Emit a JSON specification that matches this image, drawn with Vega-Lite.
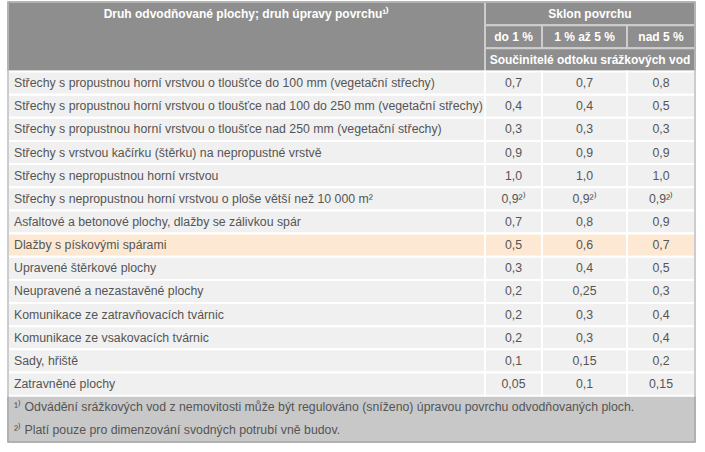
{
  "$schema": "https://vega.github.io/schema/vega-lite/v6.json",
  "width": 687,
  "height": 440,
  "autosize": {"type": "none"},
  "padding": {"left": 8, "top": 2, "right": 10, "bottom": 10},
  "background": "#ffffff",
  "config": {"view": {"stroke": null}, "text": {"font": "Liberation Sans", "fontSize": 12}},
  "resolve": {"scale": {"x": "independent", "y": "independent"}},
  "datasets": {
    "cells": [
      {"r0": 0, "r1": 3, "c0": 0, "c1": 1, "kind": "head"},
      {"r0": 0, "r1": 1, "c0": 1, "c1": 4, "kind": "head"},
      {"r0": 1, "r1": 2, "c0": 1, "c1": 2, "kind": "head"},
      {"r0": 1, "r1": 2, "c0": 2, "c1": 3, "kind": "head"},
      {"r0": 1, "r1": 2, "c0": 3, "c1": 4, "kind": "head"},
      {"r0": 2, "r1": 3, "c0": 1, "c1": 4, "kind": "head"},
      {"r0": 17, "r1": 19, "c0": 0, "c1": 4, "kind": "foot"},
      {"r0": 3, "r1": 4, "c0": 0, "c1": 1, "kind": "body"}, {"r0": 3, "r1": 4, "c0": 1, "c1": 2, "kind": "body"}, {"r0": 3, "r1": 4, "c0": 2, "c1": 3, "kind": "body"}, {"r0": 3, "r1": 4, "c0": 3, "c1": 4, "kind": "body"},
      {"r0": 4, "r1": 5, "c0": 0, "c1": 1, "kind": "body"}, {"r0": 4, "r1": 5, "c0": 1, "c1": 2, "kind": "body"}, {"r0": 4, "r1": 5, "c0": 2, "c1": 3, "kind": "body"}, {"r0": 4, "r1": 5, "c0": 3, "c1": 4, "kind": "body"},
      {"r0": 5, "r1": 6, "c0": 0, "c1": 1, "kind": "body"}, {"r0": 5, "r1": 6, "c0": 1, "c1": 2, "kind": "body"}, {"r0": 5, "r1": 6, "c0": 2, "c1": 3, "kind": "body"}, {"r0": 5, "r1": 6, "c0": 3, "c1": 4, "kind": "body"},
      {"r0": 6, "r1": 7, "c0": 0, "c1": 1, "kind": "body"}, {"r0": 6, "r1": 7, "c0": 1, "c1": 2, "kind": "body"}, {"r0": 6, "r1": 7, "c0": 2, "c1": 3, "kind": "body"}, {"r0": 6, "r1": 7, "c0": 3, "c1": 4, "kind": "body"},
      {"r0": 7, "r1": 8, "c0": 0, "c1": 1, "kind": "body"}, {"r0": 7, "r1": 8, "c0": 1, "c1": 2, "kind": "body"}, {"r0": 7, "r1": 8, "c0": 2, "c1": 3, "kind": "body"}, {"r0": 7, "r1": 8, "c0": 3, "c1": 4, "kind": "body"},
      {"r0": 8, "r1": 9, "c0": 0, "c1": 1, "kind": "body"}, {"r0": 8, "r1": 9, "c0": 1, "c1": 2, "kind": "body"}, {"r0": 8, "r1": 9, "c0": 2, "c1": 3, "kind": "body"}, {"r0": 8, "r1": 9, "c0": 3, "c1": 4, "kind": "body"},
      {"r0": 9, "r1": 10, "c0": 0, "c1": 1, "kind": "body"}, {"r0": 9, "r1": 10, "c0": 1, "c1": 2, "kind": "body"}, {"r0": 9, "r1": 10, "c0": 2, "c1": 3, "kind": "body"}, {"r0": 9, "r1": 10, "c0": 3, "c1": 4, "kind": "body"},
      {"r0": 10, "r1": 11, "c0": 0, "c1": 1, "kind": "hl"}, {"r0": 10, "r1": 11, "c0": 1, "c1": 2, "kind": "hl"}, {"r0": 10, "r1": 11, "c0": 2, "c1": 3, "kind": "hl"}, {"r0": 10, "r1": 11, "c0": 3, "c1": 4, "kind": "hl"},
      {"r0": 11, "r1": 12, "c0": 0, "c1": 1, "kind": "body"}, {"r0": 11, "r1": 12, "c0": 1, "c1": 2, "kind": "body"}, {"r0": 11, "r1": 12, "c0": 2, "c1": 3, "kind": "body"}, {"r0": 11, "r1": 12, "c0": 3, "c1": 4, "kind": "body"},
      {"r0": 12, "r1": 13, "c0": 0, "c1": 1, "kind": "body"}, {"r0": 12, "r1": 13, "c0": 1, "c1": 2, "kind": "body"}, {"r0": 12, "r1": 13, "c0": 2, "c1": 3, "kind": "body"}, {"r0": 12, "r1": 13, "c0": 3, "c1": 4, "kind": "body"},
      {"r0": 13, "r1": 14, "c0": 0, "c1": 1, "kind": "body"}, {"r0": 13, "r1": 14, "c0": 1, "c1": 2, "kind": "body"}, {"r0": 13, "r1": 14, "c0": 2, "c1": 3, "kind": "body"}, {"r0": 13, "r1": 14, "c0": 3, "c1": 4, "kind": "body"},
      {"r0": 14, "r1": 15, "c0": 0, "c1": 1, "kind": "body"}, {"r0": 14, "r1": 15, "c0": 1, "c1": 2, "kind": "body"}, {"r0": 14, "r1": 15, "c0": 2, "c1": 3, "kind": "body"}, {"r0": 14, "r1": 15, "c0": 3, "c1": 4, "kind": "body"},
      {"r0": 15, "r1": 16, "c0": 0, "c1": 1, "kind": "body"}, {"r0": 15, "r1": 16, "c0": 1, "c1": 2, "kind": "body"}, {"r0": 15, "r1": 16, "c0": 2, "c1": 3, "kind": "body"}, {"r0": 15, "r1": 16, "c0": 3, "c1": 4, "kind": "body"},
      {"r0": 16, "r1": 17, "c0": 0, "c1": 1, "kind": "body"}, {"r0": 16, "r1": 17, "c0": 1, "c1": 2, "kind": "body"}, {"r0": 16, "r1": 17, "c0": 2, "c1": 3, "kind": "body"}, {"r0": 16, "r1": 17, "c0": 3, "c1": 4, "kind": "body"}
    ],
    "texts": [
      {"r0": 0, "c0": 0, "span": 1, "part": "head", "t": "Druh odvodňované plochy; druh úpravy povrchu¹⁾"},
      {"r0": 0, "c0": 1, "span": 3, "part": "head", "t": "Sklon povrchu"},
      {"r0": 1, "c0": 1, "span": 1, "part": "head", "t": "do 1 %"},
      {"r0": 1, "c0": 2, "span": 1, "part": "head", "t": "1 % až 5 %"},
      {"r0": 1, "c0": 3, "span": 1, "part": "head", "t": "nad 5 %"},
      {"r0": 2, "c0": 1, "span": 3, "part": "head", "t": "Součinitelé odtoku srážkových vod"},
      {"r0": 3, "c0": 0, "span": 1, "part": "body", "t": "Střechy s propustnou horní vrstvou o tloušťce do 100 mm (vegetační střechy)"},
      {"r0": 3, "c0": 1, "span": 1, "part": "body", "t": "0,7"},
      {"r0": 3, "c0": 2, "span": 1, "part": "body", "t": "0,7"},
      {"r0": 3, "c0": 3, "span": 1, "part": "body", "t": "0,8"},
      {"r0": 4, "c0": 0, "span": 1, "part": "body", "t": "Střechy s propustnou horní vrstvou o tloušťce nad 100 do 250 mm (vegetační střechy)"},
      {"r0": 4, "c0": 1, "span": 1, "part": "body", "t": "0,4"},
      {"r0": 4, "c0": 2, "span": 1, "part": "body", "t": "0,4"},
      {"r0": 4, "c0": 3, "span": 1, "part": "body", "t": "0,5"},
      {"r0": 5, "c0": 0, "span": 1, "part": "body", "t": "Střechy s propustnou horní vrstvou o tloušťce nad 250 mm (vegetační střechy)"},
      {"r0": 5, "c0": 1, "span": 1, "part": "body", "t": "0,3"},
      {"r0": 5, "c0": 2, "span": 1, "part": "body", "t": "0,3"},
      {"r0": 5, "c0": 3, "span": 1, "part": "body", "t": "0,3"},
      {"r0": 6, "c0": 0, "span": 1, "part": "body", "t": "Střechy s vrstvou kačírku (štěrku) na nepropustné vrstvě"},
      {"r0": 6, "c0": 1, "span": 1, "part": "body", "t": "0,9"},
      {"r0": 6, "c0": 2, "span": 1, "part": "body", "t": "0,9"},
      {"r0": 6, "c0": 3, "span": 1, "part": "body", "t": "0,9"},
      {"r0": 7, "c0": 0, "span": 1, "part": "body", "t": "Střechy s nepropustnou horní vrstvou"},
      {"r0": 7, "c0": 1, "span": 1, "part": "body", "t": "1,0"},
      {"r0": 7, "c0": 2, "span": 1, "part": "body", "t": "1,0"},
      {"r0": 7, "c0": 3, "span": 1, "part": "body", "t": "1,0"},
      {"r0": 8, "c0": 0, "span": 1, "part": "body", "t": "Střechy s nepropustnou horní vrstvou o ploše větší než 10 000 m²"},
      {"r0": 8, "c0": 1, "span": 1, "part": "body", "t": "0,9²⁾"},
      {"r0": 8, "c0": 2, "span": 1, "part": "body", "t": "0,9²⁾"},
      {"r0": 8, "c0": 3, "span": 1, "part": "body", "t": "0,9²⁾"},
      {"r0": 9, "c0": 0, "span": 1, "part": "body", "t": "Asfaltové a betonové plochy, dlažby se zálivkou spár"},
      {"r0": 9, "c0": 1, "span": 1, "part": "body", "t": "0,7"},
      {"r0": 9, "c0": 2, "span": 1, "part": "body", "t": "0,8"},
      {"r0": 9, "c0": 3, "span": 1, "part": "body", "t": "0,9"},
      {"r0": 10, "c0": 0, "span": 1, "part": "body", "t": "Dlažby s pískovými spárami"},
      {"r0": 10, "c0": 1, "span": 1, "part": "body", "t": "0,5"},
      {"r0": 10, "c0": 2, "span": 1, "part": "body", "t": "0,6"},
      {"r0": 10, "c0": 3, "span": 1, "part": "body", "t": "0,7"},
      {"r0": 11, "c0": 0, "span": 1, "part": "body", "t": "Upravené štěrkové plochy"},
      {"r0": 11, "c0": 1, "span": 1, "part": "body", "t": "0,3"},
      {"r0": 11, "c0": 2, "span": 1, "part": "body", "t": "0,4"},
      {"r0": 11, "c0": 3, "span": 1, "part": "body", "t": "0,5"},
      {"r0": 12, "c0": 0, "span": 1, "part": "body", "t": "Neupravené a nezastavěné plochy"},
      {"r0": 12, "c0": 1, "span": 1, "part": "body", "t": "0,2"},
      {"r0": 12, "c0": 2, "span": 1, "part": "body", "t": "0,25"},
      {"r0": 12, "c0": 3, "span": 1, "part": "body", "t": "0,3"},
      {"r0": 13, "c0": 0, "span": 1, "part": "body", "t": "Komunikace ze zatravňovacích tvárnic"},
      {"r0": 13, "c0": 1, "span": 1, "part": "body", "t": "0,2"},
      {"r0": 13, "c0": 2, "span": 1, "part": "body", "t": "0,3"},
      {"r0": 13, "c0": 3, "span": 1, "part": "body", "t": "0,4"},
      {"r0": 14, "c0": 0, "span": 1, "part": "body", "t": "Komunikace ze vsakovacích tvárnic"},
      {"r0": 14, "c0": 1, "span": 1, "part": "body", "t": "0,2"},
      {"r0": 14, "c0": 2, "span": 1, "part": "body", "t": "0,3"},
      {"r0": 14, "c0": 3, "span": 1, "part": "body", "t": "0,4"},
      {"r0": 15, "c0": 0, "span": 1, "part": "body", "t": "Sady, hřiště"},
      {"r0": 15, "c0": 1, "span": 1, "part": "body", "t": "0,1"},
      {"r0": 15, "c0": 2, "span": 1, "part": "body", "t": "0,15"},
      {"r0": 15, "c0": 3, "span": 1, "part": "body", "t": "0,2"},
      {"r0": 16, "c0": 0, "span": 1, "part": "body", "t": "Zatravněné plochy"},
      {"r0": 16, "c0": 1, "span": 1, "part": "body", "t": "0,05"},
      {"r0": 16, "c0": 2, "span": 1, "part": "body", "t": "0,1"},
      {"r0": 16, "c0": 3, "span": 1, "part": "body", "t": "0,15"},
      {"r0": 17, "c0": 0, "span": 4, "part": "foot", "t": "¹⁾ Odvádění srážkových vod z nemovitosti může být regulováno (sníženo) úpravou povrchu odvodňovaných ploch."},
      {"r0": 18, "c0": 0, "span": 4, "part": "foot", "t": "²⁾ Platí pouze pro dimenzování svodných potrubí vně budov."}
    ]
  },
  "layer": [
    {
      "data": {"name": "cells"},
      "mark": {"type": "rect", "strokeWidth": 2},
      "encoding": {
        "x": {"field": "c0", "type": "quantitative", "axis": null, "scale": {"domain": [0, 1, 2, 3, 4], "range": [0, 477, 534, 619, 687], "nice": false, "zero": false}},
        "x2": {"field": "c1"},
        "y": {"field": "r0", "type": "quantitative", "axis": null, "scale": {"domain": [0, 19], "range": [0, 440], "nice": false, "zero": false}},
        "y2": {"field": "r1"},
        "fill": {"field": "kind", "type": "nominal", "legend": null, "scale": {"domain": ["head", "body", "hl", "foot"], "range": ["#8e8e8e", "#f0f0f0", "#fde9d3", "#c8c8c8"]}},
        "stroke": {"field": "kind", "type": "nominal", "legend": null, "scale": {"domain": ["head", "body", "hl", "foot"], "range": ["#cdcdcd", "#ffffff", "#ffffff", "#c8c8c8"]}}
      }
    },
    {
      "data": {"values": [{}]},
      "mark": {"type": "rect", "filled": false, "stroke": "#9a9a9a", "strokeWidth": 1},
      "encoding": {}
    },
    {
      "data": {"name": "texts"},
      "transform": [{"filter": "datum.part == 'head' && datum.span == 1"}],
      "mark": {"type": "text", "color": "#ffffff", "fontWeight": "bold", "align": "center", "baseline": "middle"},
      "encoding": {
        "x": {"field": "c0", "type": "quantitative", "axis": null, "scale": {"domain": [0, 1, 2, 3], "range": [238.5, 505.5, 576.5, 653], "nice": false, "zero": false}},
        "y": {"field": "r0", "type": "ordinal", "axis": null, "scale": {"domain": [0, 1, 2, 3, 4, 5, 6, 7, 8, 9, 10, 11, 12, 13, 14, 15, 16, 17, 18], "range": [0, 440], "paddingInner": 0, "paddingOuter": 0}},
        "text": {"field": "t"}
      }
    },
    {
      "data": {"name": "texts"},
      "transform": [{"filter": "datum.part == 'head' && datum.span == 3"}],
      "mark": {"type": "text", "color": "#ffffff", "fontWeight": "bold", "align": "center", "baseline": "middle", "dx": 105, "fontSize": 12},
      "encoding": {
        "x": {"field": "c0", "type": "quantitative", "axis": null, "scale": {"domain": [0, 1, 2, 3, 4], "range": [0, 477, 534, 619, 687], "nice": false, "zero": false}},
        "y": {"field": "r0", "type": "ordinal", "axis": null, "scale": {"domain": [0, 1, 2, 3, 4, 5, 6, 7, 8, 9, 10, 11, 12, 13, 14, 15, 16, 17, 18], "range": [0, 440], "paddingInner": 0, "paddingOuter": 0}},
        "text": {"field": "t"}
      }
    },
    {
      "data": {"name": "texts"},
      "transform": [{"filter": "datum.part == 'body' && datum.c0 > 0"}],
      "mark": {"type": "text", "color": "#555555", "align": "center", "baseline": "middle", "fontSize": 12.3},
      "encoding": {
        "x": {"field": "c0", "type": "quantitative", "axis": null, "scale": {"domain": [0, 1, 2, 3], "range": [238.5, 505.5, 576.5, 653], "nice": false, "zero": false}},
        "y": {"field": "r0", "type": "ordinal", "axis": null, "scale": {"domain": [0, 1, 2, 3, 4, 5, 6, 7, 8, 9, 10, 11, 12, 13, 14, 15, 16, 17, 18], "range": [0, 440], "paddingInner": 0, "paddingOuter": 0}},
        "text": {"field": "t"}
      }
    },
    {
      "data": {"name": "texts"},
      "transform": [{"filter": "datum.part != 'head' && datum.c0 == 0"}],
      "mark": {"type": "text", "color": "#555555", "align": "left", "baseline": "middle", "dx": 6, "fontSize": 12.3},
      "encoding": {
        "x": {"field": "c0", "type": "quantitative", "axis": null, "scale": {"domain": [0, 1, 2, 3, 4], "range": [0, 477, 534, 619, 687], "nice": false, "zero": false}},
        "y": {"field": "r0", "type": "ordinal", "axis": null, "scale": {"domain": [0, 1, 2, 3, 4, 5, 6, 7, 8, 9, 10, 11, 12, 13, 14, 15, 16, 17, 18], "range": [0, 440], "paddingInner": 0, "paddingOuter": 0}},
        "text": {"field": "t"}
      }
    }
  ]
}
